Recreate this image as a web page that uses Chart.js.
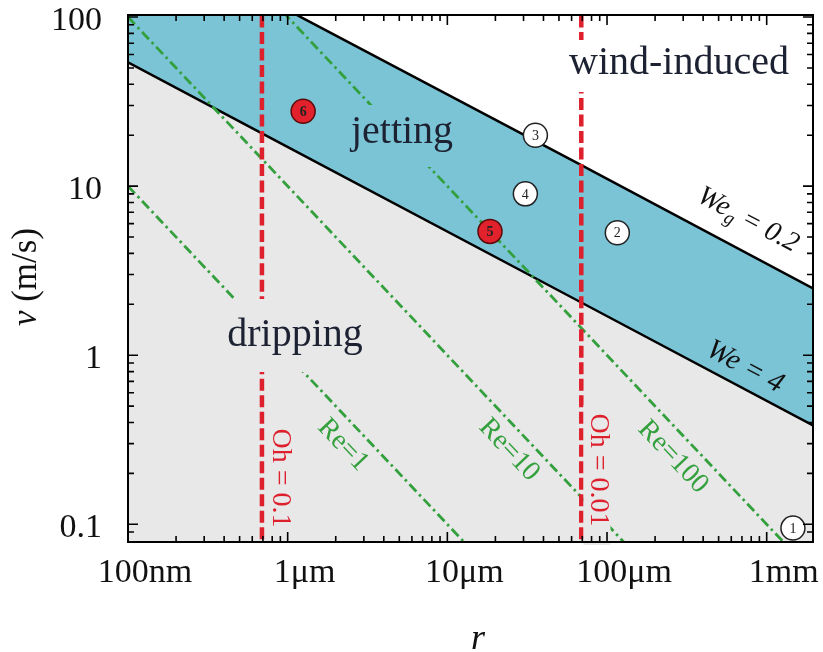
<!DOCTYPE html>
<html>
<head>
<meta charset="utf-8">
<script src="https://cdn.jsdelivr.net/npm/chart.js@4.4.1/dist/chart.umd.min.js"></script>
<style>
  body { margin: 0; background: #fff; }
  #wrap { width: 823px; height: 652px; position: relative; }
</style>
</head>
<body>
<div id="wrap"><canvas id="regime"></canvas></div>
<script>
// ---- data (r in metres, v in m/s) ----
const weR = [1e-7, 6.9e-7, 6.9e-5, 1.95e-3];     // We = 4 line
const weV = [54, 20.5, 2.05, 0.384];
const wegR = [1e-7, 1.21e-6, 6.9e-5, 1.95e-3];   // We_g = 0.2 line
const wegV = [350, 100, 13.3, 2.48];
const re1R = [1e-7, 2e-5];     const re1V = [10, 0.05];
const re10R = [1e-7, 2e-4];    const re10V = [100, 0.05];
const re100R = [1e-7, 2e-3];   const re100V = [1000, 0.05];
const oh1R = [6.9e-7, 6.9e-7]; const oh1V = [200, 0.05];
const oh01R = [6.9e-5, 6.9e-5]; const oh01V = [200, 0.05];
const markR = [1.46e-3, 1.16e-4, 3.56e-5, 3.08e-5, 1.85e-5, 1.25e-6];
const markV = [0.095, 5.3, 20, 9.0, 5.4, 27.7];
const markLbl = ['1', '2', '3', '4', '5', '6'];
const markRed = [false, false, false, false, true, true];

const xTickVals = [1e-7, 1e-6, 1e-5, 1e-4, 1e-3];
const xTickText = ['100nm', '1\u03bcm', '10\u03bcm', '100\u03bcm', '1mm'];
const yTickVals = [0.1, 1, 10, 100];
const yTickText = ['0.1', '1', '10', '100'];

const BLUE = '#7bc4d6';
const GRAY = '#e8e8e8';
const RED = '#de1f2c';
const GREEN = '#33a03d';
const SERIF = '"Liberation Serif", "DejaVu Serif", serif';

function pts(xs, ys) {
    return xs.map((x, i) => ({ x: x, y: ys[i] }));
}
function pick(vals, txt) {
    return function (v) {
        const i = vals.findIndex(t => Math.abs(v / t - 1) < 1e-6);
        return i >= 0 ? txt[i] : '';
    };
}

Chart.defaults.font.family = SERIF;

// text, ticks and frame drawn over the data
const overlay = {
    id: 'overlay',
    afterDatasetsDraw(chart) {
        const ctx = chart.ctx;
        const a = chart.chartArea;
        ctx.save();

        // label backgrounds (they hide the lines behind the labels)
        ctx.fillStyle = BLUE;  ctx.fillRect(345, 105, 115, 62);
        ctx.fillStyle = GRAY;  ctx.fillRect(222, 299, 146, 73);
        ctx.fillStyle = '#fff'; ctx.fillRect(565, 40, 230, 52);
        ctx.fillStyle = GRAY;  ctx.fillRect(583.5, 405, 27, 140);

        // region names
        ctx.fillStyle = '#1d2233';
        ctx.textAlign = 'center';
        ctx.textBaseline = 'alphabetic';
        ctx.font = '40px ' + SERIF;
        ctx.fillText('wind-induced', 679, 74);
        ctx.fillText('jetting', 402, 143);
        ctx.fillText('dripping', 295, 346);

        // Oh labels
        ctx.fillStyle = RED;
        ctx.font = '28px ' + SERIF;
        ctx.textBaseline = 'middle';
        [['Oh = 0.1', 280, 478], ['Oh = 0.01', 598, 470]].forEach(l => {
            ctx.save();
            ctx.translate(l[1], l[2]);
            ctx.rotate(Math.PI / 2);
            ctx.fillText(l[0], 0, 0);
            ctx.restore();
        });

        // Re labels
        ctx.fillStyle = GREEN;
        const reAng = Math.atan2(169, 160);
        [['Re=1', 343, 445], ['Re=10', 509, 450], ['Re=100', 673, 457]].forEach(l => {
            ctx.save();
            ctx.translate(l[1], l[2]);
            ctx.rotate(reAng);
            ctx.fillText(l[0], 0, 0);
            ctx.restore();
        });

        // We labels
        const weAng = Math.atan2(0.5 * 169, 160);
        ctx.fillStyle = '#111';
        ctx.textAlign = 'left';
        ctx.save();
        ctx.translate(748, 220);
        ctx.rotate(weAng);
        ctx.font = 'italic 28px ' + SERIF;
        const w1 = ctx.measureText('We').width;
        const w3 = ctx.measureText(' = 0.2').width;
        ctx.font = 'italic 19px ' + SERIF;
        const w2 = ctx.measureText('g').width;
        let x0 = -(w1 + w2 + w3) / 2;
        ctx.font = 'italic 28px ' + SERIF;
        ctx.fillText('We', x0, 0);
        ctx.fillText(' = 0.2', x0 + w1 + w2, 0);
        ctx.font = 'italic 19px ' + SERIF;
        ctx.fillText('g', x0 + w1, 8);
        ctx.restore();

        ctx.save();
        ctx.translate(745, 367);
        ctx.rotate(weAng);
        ctx.textAlign = 'center';
        ctx.font = 'italic 29px ' + SERIF;
        ctx.fillText('We = 4', 0, 0);
        ctx.restore();

        // numbers inside the markers
        const meta = chart.getDatasetMeta(0);
        ctx.textAlign = 'center';
        ctx.textBaseline = 'middle';
        meta.data.forEach((el, i) => {
            ctx.fillStyle = '#222';
            ctx.font = (markRed[i] ? 'bold ' : '') + '14px ' + SERIF;
            ctx.fillText(markLbl[i], el.x, el.y + 1);
        });

        // inward ticks on all four sides
        ctx.strokeStyle = '#000';
        ctx.lineWidth = 1.6;
        const tickMarks = (scale, horiz) => {
            scale.ticks.forEach(t => {
                const e = Math.floor(Math.log10(t.value) + 1e-9);
                const m = t.value / Math.pow(10, e);
                if (Math.abs(m - Math.round(m)) > 1e-6) return;
                const len = Math.abs(m - 1) < 1e-6 ? 10 : 6;
                const p = scale.getPixelForValue(t.value);
                ctx.beginPath();
                if (horiz) {
                    if (p < a.left || p > a.right) return;
                    ctx.moveTo(p, a.bottom); ctx.lineTo(p, a.bottom - len);
                    ctx.moveTo(p, a.top); ctx.lineTo(p, a.top + len);
                } else {
                    if (p < a.top || p > a.bottom) return;
                    ctx.moveTo(a.left, p); ctx.lineTo(a.left + len, p);
                    ctx.moveTo(a.right, p); ctx.lineTo(a.right - len, p);
                }
                ctx.stroke();
            });
        };
        tickMarks(chart.scales.x, true);
        tickMarks(chart.scales.y, false);

        // frame
        ctx.lineWidth = 2;
        ctx.strokeRect(a.left, a.top, a.right - a.left, a.bottom - a.top);

        // axis titles
        ctx.fillStyle = '#111';
        ctx.textAlign = 'left';
        ctx.textBaseline = 'middle';
        ctx.save();
        ctx.translate(27, 277);
        ctx.rotate(-Math.PI / 2);
        ctx.font = 'italic 35px ' + SERIF;
        const tv = ctx.measureText('v').width;
        ctx.font = '35px ' + SERIF;
        const tr = ctx.measureText(' (m/s)').width;
        ctx.font = 'italic 35px ' + SERIF;
        ctx.fillText('v', -(tv + tr) / 2, 0);
        ctx.font = '35px ' + SERIF;
        ctx.fillText(' (m/s)', -(tv + tr) / 2 + tv, 0);
        ctx.restore();

        ctx.textAlign = 'center';
        ctx.textBaseline = 'alphabetic';
        ctx.font = 'italic 36px ' + SERIF;
        ctx.fillText('r', 478, 649);

        ctx.restore();
    }
};

new Chart('regime', {
    type: 'line',
    data: {
        datasets: [
            {
                label: 'cases', data: pts(markR, markV), showLine: false, order: 0,
                pointRadius: 12, pointHoverRadius: 12, pointBorderWidth: 1.5,
                pointBackgroundColor: markRed.map(r => r ? '#e1212b' : '#fff'),
                pointBorderColor: markRed.map(r => r ? '#5a0a0a' : '#222'),
                clip: false
            },
            {
                label: 'Oh = 0.1', data: pts(oh1R, oh1V), order: 1, pointRadius: 0,
                borderColor: RED, borderWidth: 4.5, borderDash: [12, 4.5], fill: false
            },
            {
                label: 'Oh = 0.01', data: pts(oh01R, oh01V), order: 1, pointRadius: 0,
                borderColor: RED, borderWidth: 4.5, borderDash: [12, 4.5], fill: false
            },
            {
                label: 'Re=1', data: pts(re1R, re1V), order: 2, pointRadius: 0,
                borderColor: GREEN, borderWidth: 2.8, borderDash: [10, 4, 2.5, 4], fill: false
            },
            {
                label: 'Re=10', data: pts(re10R, re10V), order: 2, pointRadius: 0,
                borderColor: GREEN, borderWidth: 2.8, borderDash: [10, 4, 2.5, 4], fill: false
            },
            {
                label: 'Re=100', data: pts(re100R, re100V), order: 2, pointRadius: 0,
                borderColor: GREEN, borderWidth: 2.8, borderDash: [10, 4, 2.5, 4], fill: false
            },
            {
                label: 'We = 4', data: pts(weR, weV), order: 3, pointRadius: 0,
                borderColor: '#000', borderWidth: 2.5, fill: 'start', backgroundColor: GRAY
            },
            {
                label: 'We_g = 0.2', data: pts(wegR, wegV), order: 4, pointRadius: 0,
                borderColor: '#000', borderWidth: 2.5, fill: 'start', backgroundColor: BLUE
            }
        ]
    },
    options: {
        responsive: true,
        maintainAspectRatio: false,
        animation: false,
        events: [],
        layout: { autoPadding: false, padding: { top: 15, right: 10, left: 0, bottom: 0 } },
        plugins: { legend: { display: false }, tooltip: { enabled: false } },
        scales: {
            x: {
                type: 'logarithmic', min: 1e-7, max: 1.95e-3,
                grid: { display: false }, border: { display: false },
                afterFit: (s) => { s.height = 110; s.paddingLeft = 0; s.paddingRight = 0; },
                ticks: {
                    autoSkip: false, maxRotation: 0, padding: 3, labelOffset: 17,
                    color: '#111', font: { size: 34 },
                    callback: pick(xTickVals, xTickText)
                }
            },
            y: {
                type: 'logarithmic', min: 0.0786, max: 102.8,
                grid: { display: false }, border: { display: false },
                afterFit: (s) => { s.width = 128; s.paddingTop = 0; s.paddingBottom = 0; },
                ticks: {
                    autoSkip: false, padding: 18, labelOffset: 4,
                    color: '#111', font: { size: 34 },
                    callback: pick(yTickVals, yTickText)
                }
            }
        }
    },
    plugins: [overlay]
});
</script>
</body>
</html>
